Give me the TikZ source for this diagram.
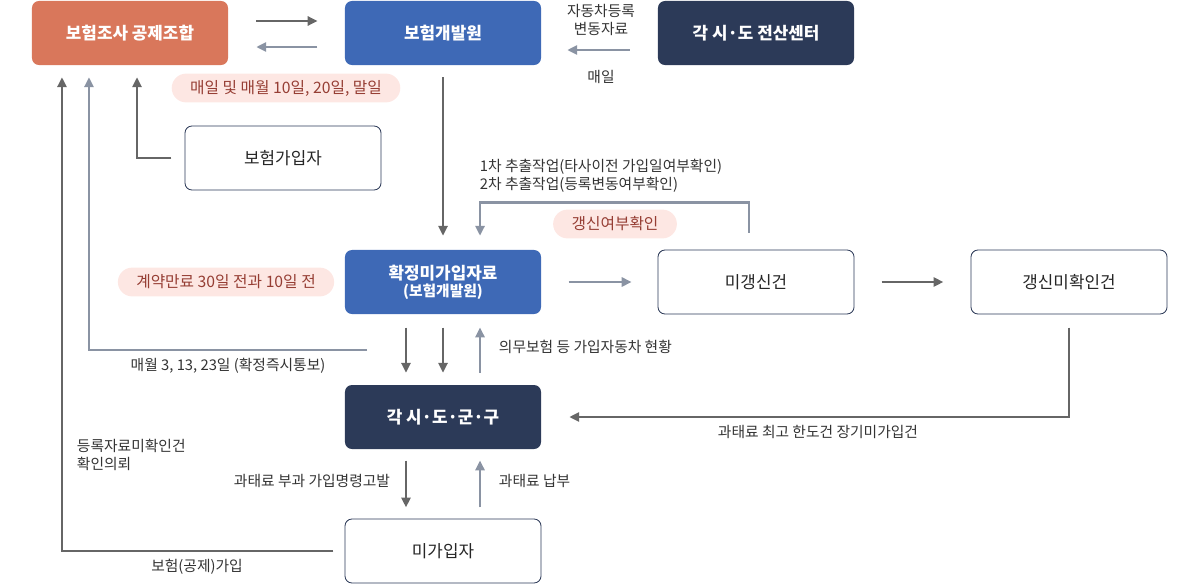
\documentclass[tikz,border=0pt]{standalone}
\usepackage{fontspec}
\setmainfont{Noto Sans CJK KR}
\definecolor{FlowOrange}{RGB}{217, 119, 91}
\definecolor{FlowBlue}{RGB}{62, 105, 182}
\definecolor{FlowNavy}{RGB}{44, 58, 88}
\definecolor{FlowDark}{RGB}{102, 102, 102}
\definecolor{FlowSteel}{RGB}{138, 147, 163}
\definecolor{PillFill}{RGB}{253, 231, 227}
\definecolor{PillText}{RGB}{150, 62, 52}
\definecolor{LabelText}{RGB}{51, 51, 51}
\usetikzlibrary{arrows.meta, positioning}

\begin{document}
\begin{tikzpicture}[
                x=0.025cm, y=-0.025cm,
                box/.style={rectangle, rounded corners=5pt, text centered, minimum width=4.9cm, minimum height=1.6cm, font=\fontsize{12}{14}\selectfont\bfseries, text=white, draw=none},
                plain/.style={box, fill=white, draw=FlowNavy, line width=0.6pt, text=black!85, font=\fontsize{12}{14}\selectfont},
                pill/.style={rectangle, rounded corners=3.6mm, fill=PillFill, text=PillText, minimum height=0.72cm, inner xsep=0.46cm, font=\fontsize{11.2}{13}\selectfont},
                lbl/.style={text=LabelText, font=\fontsize{10.5}{12.5}\selectfont, align=left},
                darr/.style={line width=1.7pt, draw=FlowDark, -{Stealth[inset=0pt, length=7pt, width=6.5pt]}},
                garr/.style={line width=1.7pt, draw=FlowSteel, -{Stealth[inset=0pt, length=7pt, width=6.5pt]}}
            ]
                \useasboundingbox (0,0) rectangle (1200,586);

                % top row
                \node (ins) [box, fill=FlowOrange] at (130,33) {보험조사 공제조합};
                \node (kidi) [box, fill=FlowBlue] at (443,33) {보험개발원};
                \node (center) [box, fill=FlowNavy] at (756,33) {각 시·도 전산센터};
                \node (member) [plain] at (283,158) {보험가입자};

                % middle row
                \node (fixed) [box, fill=FlowBlue, align=center] at (443,282) {확정미가입자료\\[-2pt]{\fontsize{10.5}{12}\selectfont (보험개발원)}};
                \node (unren) [plain] at (756,282) {미갱신건};
                \node (unconf) [plain] at (1069,282) {갱신미확인건};

                % bottom
                \node (local) [box, fill=FlowNavy] at (443,417) {각 시·도·군·구};
                \node (nonins) [plain] at (443,551) {미가입자};
                \coordinate (notify) at (367,350);

                % pills
                \node (daily) [pill] at (286,88) {매일 및 매월 10일, 20일, 말일};
                \node (expiry) [pill] at (226,282) {계약만료 30일 전과 10일 전};
                \node (renew) [pill] at (615,224) {갱신여부확인};

                % labels
                \node (carlbl) [lbl, align=center] at (601,20) {자동차등록\\변동자료};
                \node (dailylbl) [lbl] at (601,77) {매일};
                \node (extract) [lbl, anchor=west] at (475,176) {1차 추출작업(타사이전 가입일여부확인)\\2차 추출작업(등록변동여부확인)};
                \node (monthly) [lbl] at (228,366) {매월 3, 13, 23일 (확정즉시통보)};
                \node (status) [lbl, anchor=west] at (494,347) {의무보험 등 가입자동차 현황};
                \node (limit) [lbl] at (818,432) {과태료 최고 한도건 장기미가입건};
                \node (request) [lbl, anchor=west] at (72,455) {등록자료미확인건\\확인의뢰};
                \node (fine) [lbl, anchor=east] at (395,481) {과태료 부과 가입명령고발};
                \node (paid) [lbl, anchor=west] at (494,481) {과태료 납부};
                \node (joined) [lbl] at (197,567) {보험(공제)가입};

                % connectors
                \draw [darr, shorten <=0.7cm, shorten >=0.68cm] ([yshift=0.3cm]ins.east) -- ([yshift=0.3cm]kidi.west);
                \draw [garr, shorten <=0.68cm, shorten >=0.7cm] ([yshift=-0.35cm]kidi.west) -- ([yshift=-0.35cm]ins.east);
                \draw [garr, shorten <=0.7cm, shorten >=0.65cm] ([yshift=-0.425cm]center.west) -- ([yshift=-0.425cm]kidi.east);
                \draw [darr, shorten <=0.3cm, shorten >=0.35cm] (kidi.south) -- (fixed.north);
                \draw [garr, shorten <=0.42cm, shorten >=0.35cm] ([xshift=-0.175cm]unren.north) -- ++(0,-47) -| ([xshift=0.925cm]fixed.north);
                \draw [garr, shorten <=0.68cm, shorten >=0.65cm] (fixed.east) -- (unren.west);
                \draw [darr, shorten <=0.68cm, shorten >=0.68cm] (unren.east) -- (unconf.west);
                \draw [darr, shorten <=0.33cm, shorten >=0.3cm] (member.west) -| ([xshift=0.175cm]ins.south);
                \draw [garr, shorten >=0.3cm] (notify) -| ([xshift=-1.025cm]ins.south);
                \draw [darr, shorten <=0.28cm, shorten >=0.3cm] (nonins.west) -| ([xshift=-1.7cm]ins.south);
                \draw [darr, shorten <=0.33cm, shorten >=0.3cm] ([xshift=-0.925cm]fixed.south) -- ([xshift=-0.925cm]local.north);
                \draw [darr, shorten <=0.33cm, shorten >=0.3cm] (fixed.south) -- (local.north);
                \draw [garr, shorten <=0.3cm, shorten >=0.33cm] ([xshift=0.925cm]local.north) -- ([xshift=0.925cm]fixed.south);
                \draw [darr, shorten <=0.28cm, shorten >=0.28cm] ([xshift=-0.925cm]local.south) -- ([xshift=-0.925cm]nonins.north);
                \draw [garr, shorten <=0.28cm, shorten >=0.28cm] ([xshift=0.925cm]nonins.north) -- ([xshift=0.925cm]local.south);
                \draw [darr, shorten <=0.33cm, shorten >=0.7cm] (unconf.south) |- (local.east);
            \end{tikzpicture}
\end{document}
